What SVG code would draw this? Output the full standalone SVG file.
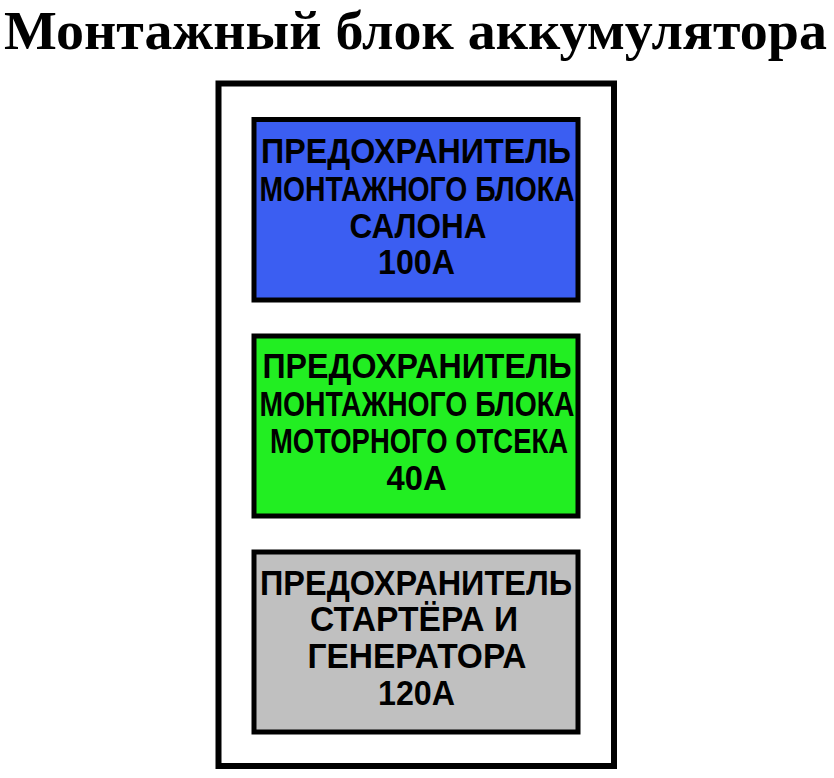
<svg xmlns="http://www.w3.org/2000/svg" width="834" height="778" viewBox="0 0 834 778">
<style>
.title{font-family:"Liberation Serif","Times New Roman",serif;font-weight:bold;font-size:54px;fill:#000}
.box{stroke:#000;stroke-width:5}
.lbl{font-family:"Liberation Sans",Arial,sans-serif;font-weight:bold;font-size:34.5px;fill:#000;text-anchor:middle}
</style>
<rect width="834" height="778" fill="#fff"/>
<text class="title" x="4" y="49" textLength="823" lengthAdjust="spacingAndGlyphs">Монтажный блок аккумулятора</text>
<g id="outer">
<rect x="218.5" y="83.5" width="395.5" height="682.5" fill="#fff" stroke="#000" stroke-width="6"/>
</g>
<g id="fuse-salon">
<rect class="box" x="254" y="119.5" width="324" height="180.5" fill="#3b5ef2"/>
<text class="lbl" x="416" y="163" textLength="310" lengthAdjust="spacingAndGlyphs">ПРЕДОХРАНИТЕЛЬ</text>
<text class="lbl" x="417" y="201" textLength="315" lengthAdjust="spacingAndGlyphs">МОНТАЖНОГО БЛОКА</text>
<text class="lbl" x="418" y="238" textLength="137" lengthAdjust="spacingAndGlyphs">САЛОНА</text>
<text class="lbl" x="416.5" y="274" textLength="77" lengthAdjust="spacingAndGlyphs">100А</text>
</g>
<g id="fuse-engine">
<rect class="box" x="254" y="336" width="324" height="180" fill="#22ee22"/>
<text class="lbl" x="417" y="378" textLength="309" lengthAdjust="spacingAndGlyphs">ПРЕДОХРАНИТЕЛЬ</text>
<text class="lbl" x="417" y="416" textLength="315" lengthAdjust="spacingAndGlyphs">МОНТАЖНОГО БЛОКА</text>
<text class="lbl" x="419" y="453" textLength="298" lengthAdjust="spacingAndGlyphs">МОТОРНОГО ОТСЕКА</text>
<text class="lbl" x="416.5" y="490" textLength="60" lengthAdjust="spacingAndGlyphs">40А</text>
</g>
<g id="fuse-starter">
<rect class="box" x="254" y="552" width="324" height="180" fill="#c0c0c0"/>
<text class="lbl" x="416" y="595" textLength="312" lengthAdjust="spacingAndGlyphs">ПРЕДОХРАНИТЕЛЬ</text>
<text class="lbl" x="414" y="631" textLength="208" lengthAdjust="spacingAndGlyphs">СТАРТЁРА И</text>
<text class="lbl" x="417" y="668" textLength="219" lengthAdjust="spacingAndGlyphs">ГЕНЕРАТОРА</text>
<text class="lbl" x="416.5" y="705" textLength="77" lengthAdjust="spacingAndGlyphs">120А</text>
</g>
<g id="connectors"></g>
</svg>
